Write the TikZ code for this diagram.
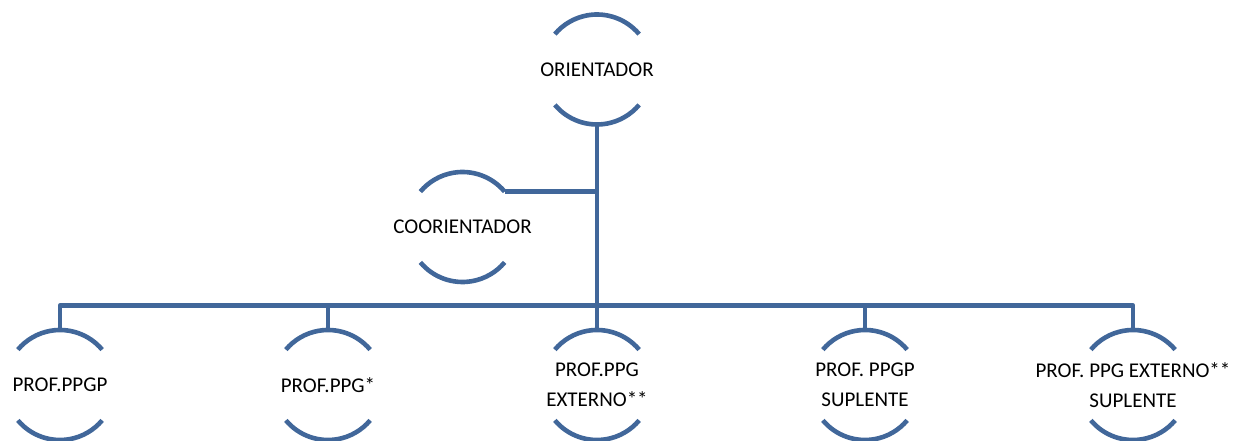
\documentclass[tikz,border=0pt]{standalone}
\usepackage{fontspec}
\setmainfont{Carlito}
\definecolor{arcblue}{RGB}{65,103,154}
\begin{document}
\begin{tikzpicture}[x=1pt,y=1pt,
  member/.style={draw=none,inner sep=0pt,outer sep=0pt,
    align=center,font=\fontsize{21}{30}\selectfont},
  ln/.style={draw=arcblue,line width=4.6pt},
  link/.style={ln,line join=round}]
\useasboundingbox (0,0) rectangle (1233,441);
\node[member] (or) at (597,371.5) {ORIENTADOR};
\node[member] (co) at (462.5,214) {COORIENTADOR};
\node[member] (p1) at (60,56) {PROF.PPGP};
\node[member] (p2) at (328,56) {PROF.PPG*};
\node[member] (p3) at (597,56) {PROF.PPG\\EXTERNO**};
\node[member] (p4) at (865,56) {PROF. PPGP\\SUPLENTE};
\node[member] (p5) at (1133,56) {PROF. PPG EXTERNO**\\SUPLENTE};
\coordinate (bus) at (597,135.5);
\coordinate (coend) at ([shift={(40:55)}]co.center);
\foreach \n in {or,co,p1,p2,p3,p4,p5}{
  \draw[ln] ([shift={(40:55)}]\n.center) arc[start angle=40,end angle=140,radius=55];
  \draw[ln] ([shift={(220:55)}]\n.center) arc[start angle=220,end angle=320,radius=55];
}
\draw[link] ([yshift=-55pt]or.center) -- (or.center |- bus);
\draw[link] (coend) -- (coend -| or.center);
\draw[link] ([yshift=55pt]p1.center) -- (p1.center |- bus) -- (p5.center |- bus) -- ([yshift=55pt]p5.center);
\foreach \n in {p2,p3,p4}{
  \draw[link] ([yshift=55pt]\n.center) -- (\n.center |- bus);
}
\end{tikzpicture}
\end{document}
